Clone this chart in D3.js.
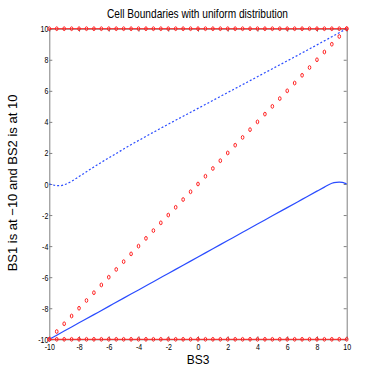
<!DOCTYPE html>
<html>
<head>
<meta charset="utf-8">
<script src="https://cdn.jsdelivr.net/npm/d3@7"></script>
<style>
  html, body { margin: 0; padding: 0; background: #fff; }
  svg { display: block; }
</style>
</head>
<body>
<svg id="chart" width="382" height="382"></svg>
<script>
// ---- data ----
const titleText = "Cell Boundaries with uniform distribution";
const xLabelText = "BS3";
const yLabelText = "BS1 is at \u221210 and BS2 is at 10";
const xTicks = [-10, -8, -6, -4, -2, 0, 2, 4, 6, 8, 10];
const yTicks = [-10, -8, -6, -4, -2, 0, 2, 4, 6, 8, 10];

const markerX = [-10, -9.5, -9, -8.5, -8, -7.5, -7, -6.5, -6, -5.5, -5, -4.5, -4, -3.5, -3, -2.5, -2, -1.5, -1, -0.5, 0,
                 0.5, 1, 1.5, 2, 2.5, 3, 3.5, 4, 4.5, 5, 5.5, 6, 6.5, 7, 7.5, 8, 8.5, 9, 9.5, 10];
const diagY = [-10, -9.5, -9, -8.5, -8, -7.5, -7, -6.5, -6, -5.5, -5, -4.5, -4, -3.5, -3, -2.5, -2, -1.5, -1, -0.5, 0,
               0.5, 1, 1.5, 2, 2.5, 3, 3.5, 4, 4.5, 5, 5.5, 6, 6.5, 7, 7.5, 8, 8.5, 9, 9.5, 10];
const topY = [10, 10, 10, 10, 10, 10, 10, 10, 10, 10, 10, 10, 10, 10, 10, 10, 10, 10, 10, 10, 10,
              10, 10, 10, 10, 10, 10, 10, 10, 10, 10, 10, 10, 10, 10, 10, 10, 10, 10, 10, 10];
const bottomY = [-10, -10, -10, -10, -10, -10, -10, -10, -10, -10, -10, -10, -10, -10, -10, -10, -10, -10, -10, -10, -10,
                 -10, -10, -10, -10, -10, -10, -10, -10, -10, -10, -10, -10, -10, -10, -10, -10, -10, -10, -10, -10];

const solidX = [-10, -9, -8, -7, -6, -5, -4, -3, -2, -1, 0, 1, 2, 3, 4, 5, 6, 7, 8, 8.5, 9, 9.3, 9.5, 9.7, 9.85, 10];
const solidY = [-10, -9.47, -8.94, -8.41, -7.88, -7.35, -6.82, -6.29, -5.76, -5.23, -4.70, -4.17, -3.64, -3.11, -2.58,
                -2.05, -1.52, -0.99, -0.46, -0.2, 0.05, 0.11, 0.12, 0.10, 0.06, 0.0];

const dashedX = [-10, -9.8, -9.6, -9.4, -9.2, -9, -8.5, -8, -7.5, -7, -6, -5, -4, -3, -2, -1, 0, 1, 2, 3, 4, 5, 6, 7, 8, 9, 10];
const dashedY = [0, -0.05, -0.09, -0.11, -0.1, -0.05, 0.18, 0.48, 0.79, 1.1, 1.68, 2.25, 2.8, 3.33, 3.85, 4.36, 4.87,
                 5.38, 5.89, 6.4, 6.91, 7.42, 7.93, 8.44, 8.96, 9.48, 10];

// ---- layout ----
const svg = d3.select("#chart");
const W = 382, H = 382;
svg.append("rect").attr("width", W).attr("height", H).attr("fill", "#fff");

const x = d3.scaleLinear().domain([-10, 10]).range([49.3, 346.7]);
const y = d3.scaleLinear().domain([-10, 10]).range([339.3, 28.7]);

const regular = "'Liberation Sans', Arial, Helvetica, sans-serif";
const axisColor = "#808080";

function condense(sel, factor) {
  sel.each(function () {
    const len = this.getComputedTextLength();
    d3.select(this).attr("textLength", len * factor).attr("lengthAdjust", "spacingAndGlyphs");
  });
}

function styleAxis(g, showLabels) {
  g.select(".domain").attr("stroke", axisColor).attr("stroke-width", 1);
  g.selectAll(".tick line").attr("stroke", axisColor).attr("stroke-width", 1);
  g.selectAll(".tick text")
    .attr("fill", "#000")
    .style("font-family", regular)
    .style("font-size", "9.5px");
  if (!showLabels) g.selectAll(".tick text").remove();
  else condense(g.selectAll(".tick text"), 0.74);
}
const fmt = d => String(d);

svg.append("g").attr("transform", `translate(0,${y(10)})`)
  .call(d3.axisTop(x).tickValues(xTicks).tickSizeInner(-3).tickSizeOuter(0).tickFormat(fmt))
  .call(g => styleAxis(g, false));
svg.append("g").attr("transform", `translate(${x(10)},0)`)
  .call(d3.axisRight(y).tickValues(yTicks).tickSizeInner(-3).tickSizeOuter(0).tickFormat(fmt))
  .call(g => styleAxis(g, false));
svg.append("g").attr("transform", `translate(0,${y(-10)})`)
  .call(d3.axisBottom(x).tickValues(xTicks).tickSizeInner(-3).tickSizeOuter(0).tickPadding(4).tickFormat(fmt))
  .call(g => styleAxis(g, true));
svg.append("g").attr("transform", `translate(${x(-10)},0)`)
  .call(d3.axisLeft(y).tickValues(yTicks).tickSizeInner(-3).tickSizeOuter(0).tickPadding(1).tickFormat(fmt))
  .call(g => styleAxis(g, true));

// ---- lines ----
const blue = "#2a4cff";
const red = "#ff2020";
const lineGen = d3.line().x(d => x(d[0])).y(d => y(d[1])).curve(d3.curveMonotoneX);

svg.append("path")
  .datum(solidX.map((v, i) => [v, solidY[i]]))
  .attr("d", lineGen).attr("fill", "none").attr("stroke", blue).attr("stroke-width", 1.2);
svg.append("path")
  .datum(dashedX.map((v, i) => [v, dashedY[i]]))
  .attr("d", lineGen).attr("fill", "none").attr("stroke", blue).attr("stroke-width", 1.2)
  .attr("stroke-dasharray", "2,2");

const straight = d3.line().x(d => x(d[0])).y(d => y(d[1]));
[topY, bottomY].forEach(arr => {
  svg.append("path")
    .datum(markerX.map((v, i) => [v, arr[i]]))
    .attr("d", straight).attr("fill", "none").attr("stroke", red).attr("stroke-width", 1);
});

// ---- markers ----
[diagY, topY, bottomY].forEach(arr => {
  svg.append("g").selectAll("ellipse")
    .data(markerX.map((v, i) => [v, arr[i]]))
    .join("ellipse")
    .attr("cx", d => x(d[0])).attr("cy", d => y(d[1]))
    .attr("rx", 1.3).attr("ry", 1.9)
    .attr("fill", "none").attr("stroke", red).attr("stroke-width", 1);
});

// ---- text ----
const title = svg.append("text")
  .attr("x", 197.5).attr("y", 17.5)
  .attr("text-anchor", "middle")
  .style("font-family", regular).style("font-size", "13.5px")
  .attr("fill", "#000")
  .text(titleText);
title.attr("textLength", 181).attr("lengthAdjust", "spacingAndGlyphs");

svg.append("text")
  .attr("x", 198).attr("y", 363.5)
  .attr("text-anchor", "middle")
  .style("font-family", regular).style("font-size", "12px")
  .attr("fill", "#000")
  .text(xLabelText);

svg.append("text")
  .attr("transform", `translate(17,${183}) rotate(-90)`)
  .attr("text-anchor", "middle")
  .style("font-family", regular).style("font-size", "13px")
  .attr("fill", "#000")
  .text(yLabelText);
</script>
</body>
</html>
